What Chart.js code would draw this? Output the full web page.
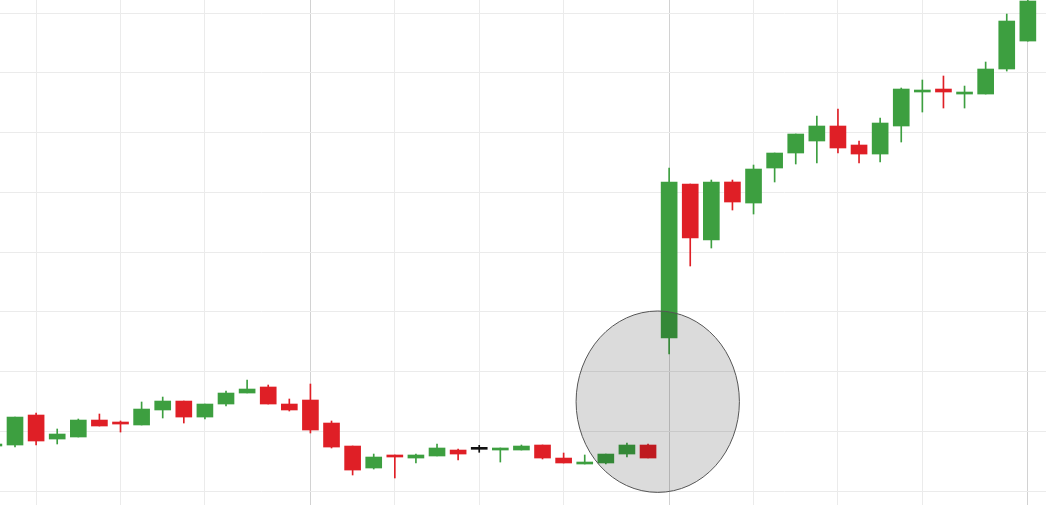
<!DOCTYPE html>
<html>
<head>
<meta charset="utf-8">
<script src="https://cdn.jsdelivr.net/npm/chart.js@4/dist/chart.umd.min.js"></script>
<style>
  html, body { margin: 0; padding: 0; background: #fff; }
  #wrap { width: 1046px; height: 519px; position: relative; }
</style>
</head>
<body>
<div id="wrap"><canvas id="chart"></canvas></div>
<script>
// candle values, one entry per session
const opens = [107.53, 107.70, 112.72, 108.70, 109.04, 111.88, 111.55, 111.05, 113.56, 115.06,
  112.38, 114.56, 116.40, 117.41, 114.56, 115.23, 111.38, 107.53, 103.85, 106.03,
  105.52, 105.86, 106.86, 106.98, 106.86, 106.86, 107.70, 105.52, 104.52, 104.69,
  106.19, 107.70, 125.61, 151.38, 142.01, 151.72, 148.20, 154.06, 156.57, 158.58,
  161.09, 157.91, 156.40, 161.09, 166.78, 167.28, 166.44, 166.44, 170.63, 175.31];
const closes = [107.70, 112.38, 108.37, 109.54, 111.88, 110.88, 111.21, 113.72, 115.06, 112.38,
  114.56, 116.40, 117.07, 114.56, 113.56, 110.21, 107.36, 103.51, 105.69, 105.69,
  106.03, 107.20, 106.19, 106.98, 107.20, 107.53, 105.52, 104.69, 104.85, 106.19,
  107.70, 105.52, 151.72, 142.34, 151.72, 148.37, 153.89, 156.57, 159.75, 161.09,
  157.41, 156.40, 161.59, 167.28, 167.11, 166.78, 166.78, 170.63, 178.66, 182.01];
const highs = [107.87, 112.38, 113.05, 110.38, 112.05, 112.89, 111.72, 114.90, 115.73, 115.06,
  114.56, 116.74, 118.58, 117.74, 115.40, 117.91, 111.72, 107.53, 106.19, 106.03,
  106.19, 107.87, 107.03, 107.65, 107.20, 107.70, 107.70, 106.36, 106.03, 106.19,
  108.03, 107.87, 154.06, 151.38, 152.05, 152.05, 154.56, 156.57, 159.75, 162.76,
  163.93, 158.58, 162.43, 167.45, 168.79, 169.46, 167.78, 171.80, 179.83, 182.18];
const lows = [107.36, 107.36, 107.70, 107.87, 109.04, 110.88, 109.87, 111.05, 112.22, 111.38,
  112.05, 114.23, 116.40, 114.56, 113.39, 109.71, 107.20, 102.68, 103.68, 102.18,
  104.69, 105.86, 105.19, 106.48, 104.85, 106.86, 105.36, 104.69, 104.52, 104.52,
  105.69, 105.52, 122.93, 137.66, 140.67, 147.03, 146.36, 151.72, 154.73, 154.90,
  156.57, 154.90, 155.06, 158.41, 163.43, 164.10, 164.10, 166.44, 170.29, 175.31];

// vertical grid positions (session index) and the month boundaries among them
const weekTicks = [2, 6, 10, 15, 19, 23, 27, 32, 36, 40, 44, 49];
const monthTicks = [15, 32, 49];
const priceTicks = [100, 110, 120, 130, 140, 150, 160, 170, 180];

// highlighted area
const circleX = 31.46, circleY = 114.95, circleRx = 3.87, circleRy = 15.18;

const GREEN = "#3d9f40";
const RED = "#df1f26";

function candleColor(i) {
    if (closes[i] > opens[i]) return GREEN;
    if (closes[i] < opens[i]) return RED;
    return "#111";
}

const wicks = opens.map((o, i) => ({ x: i, y: [lows[i], highs[i]] }));
const bodies = opens.map((o, i) => ({ x: i, y: [opens[i], closes[i]] }));

const highlight = {
    id: "highlight",
    afterDatasetsDraw(chart) {
        const { ctx, scales: { x, y } } = chart;
        const cx = x.getPixelForValue(circleX);
        const cy = y.getPixelForValue(circleY);
        const rx = x.getPixelForValue(circleX + circleRx) - cx;
        const ry = cy - y.getPixelForValue(circleY + circleRy);
        ctx.save();
        ctx.beginPath();
        ctx.ellipse(cx, cy, rx, ry, 0, 0, Math.PI * 2);
        ctx.fillStyle = "rgba(0,0,0,0.14)";
        ctx.fill();
        ctx.lineWidth = 1;
        ctx.strokeStyle = "#555";
        ctx.stroke();
        ctx.restore();
    }
};

const ctx = document.getElementById("chart").getContext("2d");
new Chart(ctx, {
    type: "bar",
    data: {
        datasets: [
            {
                data: wicks,
                grouped: false,
                barThickness: 1,
                backgroundColor: c => candleColor(c.dataIndex),
                order: 2
            },
            {
                data: bodies,
                grouped: false,
                barThickness: 16,
                minBarLength: 2,
                backgroundColor: c => candleColor(c.dataIndex),
                order: 1
            }
        ]
    },
    options: {
        responsive: true,
        maintainAspectRatio: false,
        animation: false,
        layout: { padding: { top: 0, left: 0, right: 0, bottom: 14 } },
        plugins: {
            legend: { display: false },
            tooltip: { enabled: false }
        },
        scales: {
            x: {
                type: "linear",
                min: 0.289,
                max: 49.86,
                offset: false,
                afterBuildTicks: s => { s.ticks = weekTicks.map(v => ({ value: v })); },
                ticks: { display: false },
                border: { display: false },
                grid: {
                    offset: false,
                    drawTicks: false,
                    color: c => (c.tick && monthTicks.includes(c.tick.value)) ? "#d2d2d2" : "#ebebeb"
                }
            },
            y: {
                type: "linear",
                min: 97.66,
                max: 182.18,
                afterBuildTicks: s => { s.ticks = priceTicks.map(v => ({ value: v })); },
                ticks: { display: false },
                border: { display: false },
                grid: { drawTicks: false, color: "#ebebeb" }
            }
        }
    },
    plugins: [highlight]
});
</script>
</body>
</html>
